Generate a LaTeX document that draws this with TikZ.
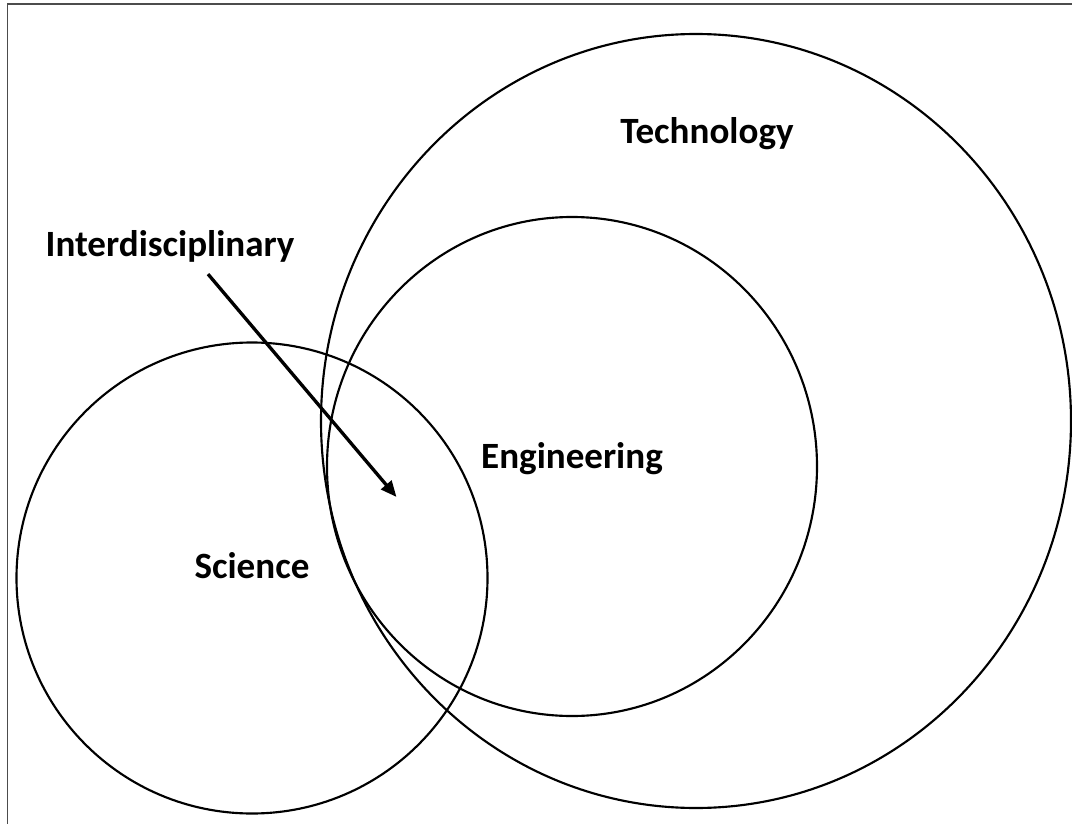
\documentclass[tikz,border=0pt]{standalone}
\usepackage{fontspec}
\setmainfont{Carlito}
\usetikzlibrary{arrows.meta}
\tikzset{
	field/.style={line width=1.6pt},
	fieldLabel/.style={font=\bfseries\fontsize{27.8}{32}\selectfont, anchor=base, inner sep=0pt},
	pointer/.style={line width=2.5pt, -{Triangle[length=12pt,width=10pt]}},
}
\begin{document}
\begin{tikzpicture}[x=0.75pt,y=-0.75pt]
	\useasboundingbox (0,0) rectangle (1072,824);
	\draw[line width=1.2pt, black!70] (7.5,1100) -- (7.5,4) -- (1100,4);
	% the three fields
	\draw[field] (696,421) ellipse [x radius=375, y radius=387];
	\draw[field] (572,466.5) ellipse [x radius=245, y radius=249.5];
	\draw[field] (252,578) ellipse [x radius=235.5, y radius=235.5];
	\node[fieldLabel] (tech) at (707,143) {Technology};
	\node[fieldLabel] (eng) at (572,468) {Engineering};
	\node[fieldLabel] (sci) at (252,578) {Science};
	\node[fieldLabel] (inter) at (170,256) {Interdisciplinary};
	% arrow into the overlap
	\coordinate (overlap) at (396.5,497);
	\draw[pointer] (inter.south) ++(38,12) -- (overlap);
\end{tikzpicture}
\end{document}
